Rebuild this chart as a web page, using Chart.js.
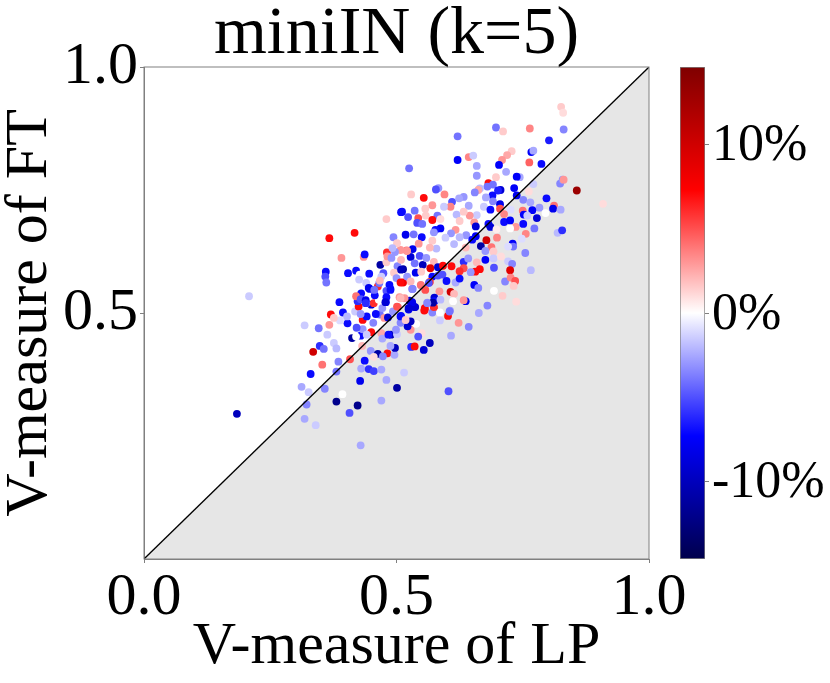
<!DOCTYPE html>
<html>
<head>
<meta charset="utf-8">
<title>miniIN (k=5)</title>
<script src="https://cdn.jsdelivr.net/npm/chart.js@4"></script>
<style>
  html, body { margin: 0; padding: 0; background: #fff; }
  #wrap { position: relative; width: 830px; height: 683px; overflow: hidden; }
  #main { position: absolute; left: 0; top: 0; }
  #bar { position: absolute; left: 660px; top: 0; }
</style>
</head>
<body>
<div id="wrap">
  <canvas id="main" width="830" height="683"></canvas>
  <canvas id="bar" width="170" height="683"></canvas>
</div>
<script>
// V-measure of LP (x)
const lpScores = [
  .826,.830,.764,.831,.697,.711,.621,.802,.767,.771,.728,.719,.643,.652,.621,.709,.763,.787,.703,.659,
  .525,.717,.659,.697,.744,.738,.824,.829,.831,.682,.733,.691,.680,.665,.706,.701,.662,.655,.583,.578,
  .771,.857,.529,.595,.554,.690,.738,.762,.633,.624,.610,.677,.909,.797,.751,.765,.571,.691,.705,.673,
  .643,.607,.594,.557,.812,.810,.825,.783,.769,.726,.686,.705,.536,.511,.750,.752,.759,.795,.778,.713,
  .619,.659,.645,.633,.581,.523,.543,.558,.571,.587,.625,.654,.713,.725,.736,.751,.682,.686,.657,.541,
  .551,.587,.577,.574,.773,.819,.828,.756,.699,.518,.534,.550,.617,.608,.638,.657,.625,.725,.698,.678,
  .748,.730,.731,.721,.667,.650,.597,.571,.544,.532,.579,.614,.637,.688,.676,.692,.755,.566,.520,.508,
  .546,.528,.590,.574,.633,.642,.676,.692,.707,.721,.729,.693,.659,.766,.725,.536,.552,.513,.567,.582,
  .592,.609,.633,.625,.665,.656,.647,.538,.556,.549,.571,.582,.591,.599,.617,.625,.566,.513,.532,.549,
  .654,.662,.715,.726,.735,.732,.693,.585,.607,.614,.612,.637,.710,.737,.680,.575,.575,.561,.531,.526,
  .536,.516,.556,.574,.606,.587,.633,
  .184,.318,.346,.367,.363,.348,.356,.335,.376,.381,.353,.385,.408,.437,.330,.381,.312,.326,.358,.322,
  .381,.393,.423,.407,.318,.340,.470,.429,.501,.428,.480,.515,.603,.430,.445,.455,.470,.449,.463,.482,
  .473,.455,.496,.497,.488,.529,.536,.554,.566,.608,.623,.643,.550,.543,.470,.472,.489,.501,.528,.522,
  .539,.519,.528,.508,.499,.484,.429,.433,.421,.403,.388,.394,.370,.376,.418,.433,.441,.454,.450,.441,
  .432,.402,.425,.387,.450,.455,.467,.459,.476,.483,.503,.493,.509,.524,.528,.537,.556,.571,.586,.586,
  .602,.605,.574,.572,.561,.479,.472,.440,.429,.663,.423,
  .208,.367,.417,.480,.391,.435,.437,.360,.359,.361,.404,.420,.446,.427,.426,.440,.468,.474,.480,.481,
  .482,.494,.501,.509,.497,.492,.490,.502,.495,.509,.500,.486,.463,.466,.447,.488,.480,.430,.420,.465,
  .457,.480,.478,.501,.506,.470,.508,.429,.439,
  .521,.559,.509,.521,.528,.467,.548,.564,.439,.445,.456,.488,.531,.557,.508,.531,.524,.555,.508,.518,
  .412,.420
];

// V-measure of FT (y)
const ftScores = [
  .919,.907,.875,.873,.877,.869,.859,.851,.827,.830,.829,.821,.817,.820,.811,.811,.806,.803,.801,.799,
  .794,.787,.779,.776,.776,.777,.763,.771,.771,.764,.754,.761,.757,.753,.750,.749,.750,.745,.754,.751,
  .762,.749,.741,.741,.734,.739,.739,.747,.736,.733,.726,.735,.722,.733,.730,.725,.719,.727,.721,.716,
  .718,.716,.716,.712,.718,.712,.710,.714,.709,.710,.710,.712,.708,.706,.708,.700,.698,.703,.693,.701,
  .700,.699,.698,.706,.698,.695,.693,.698,.689,.691,.687,.684,.685,.688,.675,.681,.681,.675,.676,.683,
  .681,.672,.669,.664,.672,.663,.668,.661,.653,.659,.660,.654,.669,.662,.658,.656,.654,.672,.670,.648,
  .651,.641,.635,.635,.636,.649,.653,.647,.641,.630,.631,.640,.633,.634,.626,.625,.622,.633,.627,.628,
  .616,.614,.615,.604,.604,.611,.608,.611,.615,.605,.600,.592,.603,.587,.587,.601,.598,.589,.591,.593,
  .596,.595,.591,.585,.589,.584,.583,.582,.577,.584,.574,.576,.578,.565,.562,.570,.563,.562,.549,.556,
  .557,.551,.564,.572,.565,.555,.545,.544,.543,.539,.524,.524,.535,.523,.515,.531,.524,.521,.520,.525,
  .512,.530,.510,.510,.505,.527,.526,
  .295,.475,.469,.476,.456,.433,.427,.421,.439,.428,.395,.401,.406,.403,.376,.381,.350,.339,.346,.314,
  .320,.335,.312,.297,.285,.272,.322,.231,.348,.362,.364,.379,.341,.387,.386,.382,.385,.423,.417,.418,
  .412,.411,.415,.429,.433,.431,.432,.425,.439,.454,.480,.472,.459,.452,.459,.448,.456,.457,.466,.473,
  .478,.486,.483,.480,.466,.456,.454,.467,.470,.479,.485,.501,.497,.490,.503,.486,.493,.480,.461,.456,
  .433,.493,.513,.522,.517,.520,.497,.498,.490,.491,.512,.503,.494,.507,.512,.512,.507,.501,.501,.485,
  .494,.503,.512,.521,.520,.522,.510,.520,.498,.500,.524,
  .534,.652,.663,.691,.612,.614,.619,.584,.574,.562,.581,.586,.580,.578,.568,.561,.598,.581,.603,.623,
  .615,.654,.642,.705,.624,.632,.612,.595,.582,.588,.571,.557,.554,.561,.549,.549,.545,.540,.534,.527,
  .536,.532,.522,.513,.532,.574,.562,.528,.526,
  .626,.612,.608,.574,.564,.566,.557,.561,.520,.551,.547,.547,.549,.547,.530,.522,.510,.505,.493,.486,
  .449,.452
];

// colour bar value of each point, in percent
const deltaPct = [
  1.5,1,3.5,-3.5,-4,1.5,-4,-6.5,-7.5,-2.5,1.5,2.5,3.5,-1.5,-7.5,3,4.5,-7,-7.5,-2.5,
  -4,-2.5,-3,1.5,-2.5,-7.5,-3.5,-3,3,7,-7.5,-4,-4,-2,-9,-6.5,2.5,-3.5,-3,-5,
  -1.5,13,1.5,3.5,7,-7,-8,1,-3,-2.5,-5,-2.5,1,-7,-3.5,-2.5,3,-3.5,-8,-1.5,
  -2.5,3.5,-1.5,1.5,4,-8,-2.5,-3,-7.5,-1,-7,5,-4,-7,4,-7.5,-1.5,0,-9,3.5,
  -2,-1.5,3,1.5,-4,-5,5,1.5,7,1,1.5,3,-7,-7.5,3,-7,-7,-9,-9,-5,
  -4,-7.5,-7,-3,-4,-2,-6,3.5,3.5,-8,-4,-7,3,-3,-3,-7.5,-2,0,.5,10,
  -1,-7.5,-4,-1,-11,-7,-1.5,1.5,3,-8,-2,-2,2,4,-3,1.5,-3.5,2,4,3,
  -5,-9,0,2,-6,-3,-7.5,-1.5,1,-1.5,-3.5,-5,2,-2,9,-4,-10,-11,9,-9,
  7,7,5,6,7,7,-3,-8,0,1.5,-7,-5,-5,-7,-2.5,-7,6,8,-4,-2,
  -7.5,-3.5,-3.5,3.5,5,1.5,0,3,10,2,0,-8,1.5,1,-3.5,-9,-7,-3,-10,-9,
  -9,3,7,6,-3,-2,3,
  -10,-1.5,-4,3,-1.5,-6,-4,10,-1.5,-2,4,-3.5,5,-7,-7,-4,-2.5,-1.5,-3.5,-3.5,
  -12,0,-12,-5,-2.5,-1.5,-2.5,-2.5,-11,-8,-2.5,-1.5,-5,-2.5,-6,-5.5,-2.5,-3,-11,7,
  -3.5,1,-2.5,-10,-2.5,-6,7,-9,-10,-2.5,3,-3.5,1,-5,2.5,-2.5,-10,-1.5,3,-9,
  0,1,-10,-3.5,-3,-7,-7,-3,-5,-7,-1,-7,7,1.5,-1.5,7,-7,-3.5,7,-1.5,
  2,-2,7,-7,-9,6,-4,-7,3,-9,3.5,-3,-7,-8,-7,-9,7,-3.5,0,-1.5,
  7,-4,6,-11,-3.5,-7,-3,-3.5,-3,-2.5,-6,
  -1.5,7,7,1.5,3,3,-7,-7,-5,-4,-7,-7,-7,0,-1.5,-1.5,-11,-5,1.5,6,
  3,-3.5,1.5,-7,-3,-2,-3,-3.5,1.5,-10,-3,-7,6,-4,-8,-7,-5,-7,4,0,
  -7,-7,-9,5,3,-1.5,7,-5,-8,
  3,-3,2,-3,2,2,4,-5,-6,-8,-4,-7,-3.5,5,2,-8,-9,7,-7,1.5,
  -11,0
];

const axisTicks = [0, 0.5, 1];
const barTicks = [-10, 0, 10];
const barMin = -14.6;
const barMax = 14.6;
const diagonal = [{ x: 0, y: 0 }, { x: 1, y: 1 }];

// seismic colormap
const cmapPos = [0, 0.25, 0.5, 0.75, 1];
const cmapRgb = [[0, 0, 76], [0, 0, 255], [255, 255, 255], [255, 0, 0], [127, 0, 0]];

function seismic(v) {
  const t = Math.min(1, Math.max(0, (v - barMin) / (barMax - barMin)));
  let i = 0;
  while (i < cmapPos.length - 2 && t > cmapPos[i + 1]) i++;
  const f = (t - cmapPos[i]) / (cmapPos[i + 1] - cmapPos[i]);
  const c = cmapRgb[i].map((a, k) => Math.round(a + (cmapRgb[i + 1][k] - a) * f));
  return `rgb(${c[0]},${c[1]},${c[2]})`;
}

const serif = 'Liberation Serif';
const edge = '#808080';
const points = lpScores.map((x, i) => ({ x: x, y: ftScores[i] }));

// top and right edge of the axes box
const framePlugin = {
  id: 'frame',
  afterDatasetsDraw(chart) {
    const { ctx, chartArea: a } = chart;
    ctx.save();
    ctx.strokeStyle = edge;
    ctx.lineWidth = 1;
    ctx.strokeRect(a.left, a.top, a.right - a.left, a.bottom - a.top);
    ctx.restore();
  }
};

new Chart(document.getElementById('main'), {
  type: 'scatter',
  plugins: [framePlugin],
  data: {
    datasets: [
      {
        type: 'line', data: diagonal, order: 3, borderWidth: 0, pointRadius: 0,
        fill: 'start', backgroundColor: '#e6e6e6'
      },
      {
        data: points, order: 2, pointRadius: 3.9, borderWidth: 0,
        pointBackgroundColor: deltaPct.map(seismic)
      },
      {
        type: 'line', data: diagonal, order: 1, borderColor: '#000', borderWidth: 1.3,
        pointRadius: 0, fill: false
      }
    ]
  },
  options: {
    responsive: false,
    animation: false,
    layout: { padding: { left: 0, top: 0, right: 181, bottom: 0 } },
    plugins: {
      legend: { display: false },
      tooltip: { enabled: false },
      title: {
        display: true, text: 'miniIN (k=5)', color: '#000', fullSize: false,
        font: { family: serif, size: 68, weight: 'normal', lineHeight: 1 },
        padding: { top: 1, bottom: -2 }
      }
    },
    scales: {
      x: {
        type: 'linear', min: 0, max: 1,
        afterBuildTicks: s => { s.ticks = axisTicks.map(v => ({ value: v })); },
        afterFit: s => { s.height = 124; },
        grid: { drawOnChartArea: false, tickLength: 4, tickColor: edge },
        border: { color: edge },
        ticks: {
          color: '#000', maxRotation: 0, padding: -1,
          font: { family: serif, size: 60 },
          callback: v => v.toFixed(1)
        },
        title: {
          display: true, text: 'V-measure of LP', color: '#000',
          font: { family: serif, size: 60, lineHeight: 1 },
          padding: { top: 0, bottom: 6 }
        }
      },
      y: {
        type: 'linear', min: 0, max: 1,
        afterBuildTicks: s => { s.ticks = axisTicks.filter(v => v > 0).map(v => ({ value: v })); },
        afterFit: s => { s.width = 144; },
        grid: { drawOnChartArea: false, tickLength: 4, tickColor: edge },
        border: { color: edge },
        ticks: {
          color: '#000', padding: 2,
          font: { family: serif, size: 60 },
          callback: v => v.toFixed(1)
        },
        title: {
          display: true, text: 'V-measure of FT', color: '#000',
          font: { family: serif, size: 60, lineHeight: 1 },
          padding: { top: 0, bottom: 0 }
        }
      }
    }
  }
});

// colour bar, one tall floating bar on its own scale
new Chart(document.getElementById('bar'), {
  type: 'bar',
  data: {
    labels: [''],
    datasets: [{
      data: [[barMin, barMax]],
      barPercentage: 1,
      categoryPercentage: 1,
      borderColor: edge,
      borderWidth: 1,
      borderSkipped: false,
      backgroundColor: c => {
        const a = c.chart.chartArea;
        if (!a) return '#fff';
        const g = c.chart.ctx.createLinearGradient(0, a.bottom, 0, a.top);
        for (let i = 0; i <= 40; i++) {
          g.addColorStop(i / 40, seismic(barMin + (barMax - barMin) * i / 40));
        }
        return g;
      }
    }]
  },
  options: {
    responsive: false,
    animation: false,
    layout: { padding: { left: 20, top: 67, right: 0, bottom: 124 } },
    plugins: { legend: { display: false }, tooltip: { enabled: false } },
    scales: {
      x: { display: false },
      y: {
        position: 'right', min: barMin, max: barMax,
        afterBuildTicks: s => { s.ticks = barTicks.map(v => ({ value: v })); },
        afterFit: s => { s.width = 125; },
        grid: { drawOnChartArea: false, tickLength: 4, tickColor: edge },
        border: { display: false },
        ticks: {
          color: '#000', padding: 3, labelOffset: 2,
          font: { family: serif, size: 52 },
          callback: v => v + '%'
        }
      }
    }
  }
});
</script>
</body>
</html>
